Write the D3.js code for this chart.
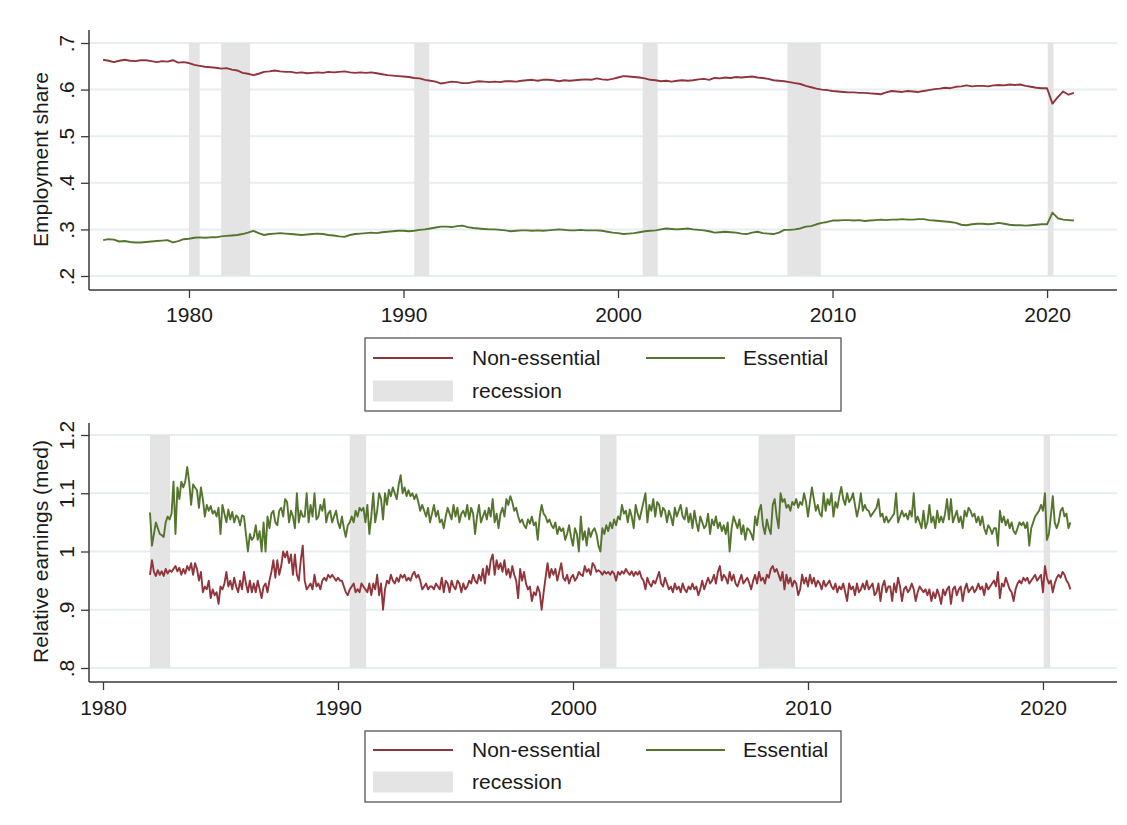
<!DOCTYPE html>
<html>
<head>
<meta charset="utf-8">
<script src="https://cdn.jsdelivr.net/npm/d3@7"></script>
<style>
  body { margin: 0; background: #fff; }
  svg text { font-family: Arial, "Liberation Sans", sans-serif; fill: #1a1a1a; }
</style>
</head>
<body>
<svg width="1127" height="825"></svg>
<script>
// ---- data ----
var seriesNames = ["Non-essential", "Essential"];
var seriesColors = ["#90353b", "#55752f"];

// recession spans (decimal years)
var recessions = [[1980.0, 1980.5], [1981.5, 1982.85], [1990.5, 1991.2],
                  [2001.15, 2001.85], [2007.9, 2009.45], [2020.03, 2020.3]];

// employment share, quarterly from 1976q1
var empStart = 1976, empStep = 0.25;
var empNonEss = [
  .664,.662,.659,.662, .664,.662,.661,.663, .663,.661,.659,.661, .660,.663,.658,.659,
  .657,.653,.651,.649, .648,.647,.645,.646, .643,.641,.636,.634, .631,.634,.638,.639,
  .641,.639,.638,.638, .636,.637,.635,.636, .637,.636,.638,.637, .638,.639,.637,.636,
  .637,.636,.637,.635, .633,.631,.630,.629, .628,.627,.625,.624, .621,.619,.617,.613,
  .615,.617,.616,.614, .614,.616,.618,.617, .616,.617,.616,.618, .618,.617,.619,.620,
  .621,.619,.621,.621, .620,.618,.620,.619, .620,.621,.622,.621, .624,.622,.621,.623,
  .626,.629,.628,.627, .626,.624,.621,.620, .618,.619,.617,.619, .620,.619,.620,.622,
  .623,.621,.625,.624, .626,.625,.627,.626, .627,.628,.626,.625, .623,.620,.619,.618,
  .616,.614,.612,.608, .605,.602,.600,.599, .597,.596,.595,.594, .594,.593,.593,.592,
  .591,.590,.594,.597, .596,.595,.597,.596, .595,.597,.599,.601, .602,.604,.603,.606,
  .607,.609,.607,.608, .608,.607,.609,.610, .609,.611,.610,.611, .608,.606,.604,.603,
  .603,.570,.584,.596, .589,.593
];
var empEss = [
  .277,.279,.278,.274, .275,.273,.272,.272, .273,.274,.275,.276, .277,.272,.275,.279,
  .280,.282,.283,.282, .283,.283,.285,.286, .287,.288,.290,.293, .297,.292,.288,.290,
  .291,.292,.291,.290, .289,.288,.289,.290, .291,.290,.288,.287, .285,.284,.288,.290,
  .291,.292,.293,.292, .294,.295,.296,.297, .297,.296,.297,.299, .300,.302,.304,.306,
  .306,.305,.307,.308, .305,.303,.302,.301, .300,.300,.299,.298, .296,.297,.298,.298,
  .297,.298,.297,.298, .299,.300,.299,.298, .298,.299,.298,.298, .298,.297,.295,.293,
  .292,.290,.291,.292, .294,.296,.297,.298, .300,.302,.301,.300, .301,.302,.300,.299,
  .298,.296,.293,.294, .295,.294,.293,.291, .290,.293,.295,.292, .291,.290,.293,.299,
  .299,.300,.302,.306, .307,.311,.314,.316, .319,.319,.320,.320, .319,.320,.318,.319,
  .320,.321,.320,.321, .321,.322,.321,.321, .322,.322,.320,.319, .318,.317,.316,.314,
  .310,.309,.311,.312, .312,.311,.312,.314, .312,.310,.309,.309, .308,.309,.310,.311,
  .311,.336,.324,.321, .320,.319
];

// relative earnings (median), monthly from 1982m1
var earnStart = 1982, earnStep = 1 / 12;
var earnNonEss = [
  0.960,0.985,0.965,0.958,0.968,0.960,0.966,0.958,0.970,0.962,0.968,0.965, // 1982
  0.970,0.975,0.966,0.972,0.960,0.970,0.962,0.975,0.968,0.980,0.960,0.980, // 1983
  0.970,0.950,0.965,0.930,0.940,0.935,0.950,0.920,0.935,0.925,0.930,0.910, // 1984
  0.940,0.935,0.945,0.965,0.940,0.950,0.935,0.955,0.940,0.930,0.950,0.935, // 1985
  0.965,0.945,0.930,0.950,0.930,0.945,0.930,0.950,0.935,0.920,0.940,0.945, // 1986
  0.930,0.950,0.965,0.985,0.955,0.985,0.960,0.975,1.000,0.990,1.000,0.980, // 1987
  0.995,0.960,0.995,0.960,0.950,0.985,1.010,0.950,0.935,0.940,0.945,0.935, // 1988
  0.960,0.940,0.945,0.935,0.950,0.955,0.950,0.960,0.955,0.960,0.955,0.950, // 1989
  0.955,0.950,0.950,0.940,0.930,0.925,0.935,0.940,0.945,0.930,0.935,0.930, // 1990
  0.945,0.940,0.935,0.930,0.945,0.925,0.945,0.935,0.960,0.925,0.945,0.900, // 1991
  0.935,0.950,0.945,0.960,0.950,0.945,0.955,0.948,0.960,0.955,0.960,0.950, // 1992
  0.955,0.950,0.960,0.965,0.955,0.960,0.950,0.935,0.940,0.945,0.935,0.940, // 1993
  0.940,0.935,0.945,0.940,0.935,0.955,0.930,0.950,0.945,0.930,0.950,0.940, // 1994
  0.935,0.950,0.945,0.930,0.945,0.935,0.940,0.950,0.945,0.960,0.950,0.945, // 1995
  0.960,0.950,0.970,0.945,0.975,0.960,0.985,0.995,0.960,0.985,0.970,0.980, // 1996
  0.965,0.985,0.960,0.970,0.955,0.975,0.960,0.950,0.920,0.970,0.950,0.965, // 1997
  0.945,0.935,0.940,0.915,0.930,0.925,0.940,0.930,0.900,0.930,0.955,0.980, // 1998
  0.955,0.970,0.960,0.970,0.950,0.965,0.980,0.955,0.950,0.960,0.945,0.955, // 1999
  0.960,0.950,0.955,0.965,0.960,0.958,0.975,0.965,0.970,0.960,0.980,0.975, // 2000
  0.965,0.968,0.965,0.960,0.966,0.962,0.965,0.960,0.966,0.962,0.950,0.965, // 2001
  0.960,0.966,0.962,0.970,0.964,0.960,0.966,0.958,0.965,0.960,0.966,0.955, // 2002
  0.950,0.935,0.955,0.945,0.940,0.950,0.945,0.955,0.965,0.945,0.940,0.955, // 2003
  0.945,0.935,0.940,0.930,0.945,0.935,0.940,0.930,0.945,0.935,0.930,0.940, // 2004
  0.935,0.945,0.935,0.940,0.925,0.935,0.950,0.935,0.945,0.955,0.945,0.950, // 2005
  0.960,0.945,0.965,0.975,0.950,0.960,0.955,0.945,0.965,0.950,0.960,0.945, // 2006
  0.940,0.950,0.960,0.945,0.950,0.955,0.946,0.935,0.950,0.960,0.945,0.965, // 2007
  0.950,0.955,0.945,0.960,0.955,0.970,0.975,0.965,0.970,0.960,0.950,0.965, // 2008
  0.935,0.960,0.945,0.955,0.940,0.950,0.945,0.925,0.935,0.960,0.945,0.955, // 2009
  0.940,0.960,0.945,0.955,0.940,0.950,0.945,0.935,0.950,0.940,0.945,0.950, // 2010
  0.940,0.935,0.945,0.930,0.940,0.935,0.945,0.930,0.915,0.945,0.935,0.940, // 2011
  0.925,0.945,0.930,0.935,0.945,0.935,0.950,0.935,0.940,0.945,0.925,0.930, // 2012
  0.945,0.915,0.940,0.950,0.930,0.940,0.940,0.915,0.945,0.930,0.955,0.940, // 2013
  0.915,0.935,0.940,0.930,0.935,0.945,0.935,0.915,0.930,0.940,0.935,0.930, // 2014
  0.935,0.925,0.935,0.915,0.930,0.920,0.935,0.925,0.910,0.935,0.925,0.935, // 2015
  0.940,0.910,0.935,0.940,0.925,0.935,0.940,0.915,0.935,0.945,0.930,0.935, // 2016
  0.940,0.930,0.935,0.945,0.935,0.940,0.925,0.945,0.935,0.940,0.945,0.950, // 2017
  0.940,0.965,0.920,0.945,0.940,0.955,0.945,0.935,0.930,0.915,0.935,0.945, // 2018
  0.950,0.945,0.955,0.950,0.955,0.945,0.950,0.955,0.960,0.950,0.955,0.960, // 2019
  0.930,0.975,0.955,0.945,0.950,0.930,0.945,0.955,0.960,0.955,0.965,0.960, // 2020
  0.950,0.945,0.935                                                        // 2021
];
var earnEss = [
  1.067,1.010,1.030,1.050,1.040,1.030,1.028,1.025,1.050,1.060,1.055,1.065, // 1982
  1.120,1.030,1.110,1.090,1.120,1.110,1.120,1.145,1.120,1.080,1.115,1.110, // 1983
  1.105,1.075,1.110,1.090,1.060,1.080,1.070,1.078,1.065,1.070,1.060,1.075, // 1984
  1.030,1.080,1.065,1.050,1.072,1.055,1.068,1.050,1.062,1.058,1.045,1.062, // 1985
  1.060,1.030,1.000,1.030,1.020,1.025,1.045,1.020,1.035,1.000,1.050,1.000, // 1986
  1.060,1.040,1.065,1.070,1.050,1.045,1.070,1.075,1.060,1.090,1.085,1.050, // 1987
  1.070,1.060,1.040,1.100,1.050,1.070,1.060,1.060,1.100,1.050,1.080,1.060, // 1988
  1.100,1.055,1.060,1.080,1.070,1.090,1.050,1.065,1.070,1.050,1.060,1.070, // 1989
  1.050,1.040,1.060,1.040,1.025,1.045,1.050,1.060,1.050,1.070,1.060,1.075, // 1990
  1.070,1.075,1.050,1.080,1.030,1.060,1.100,1.050,1.070,1.100,1.090,1.055, // 1991
  1.100,1.080,1.106,1.095,1.110,1.100,1.090,1.115,1.131,1.100,1.110,1.095, // 1992
  1.105,1.095,1.100,1.090,1.098,1.085,1.070,1.080,1.070,1.060,1.075,1.050, // 1993
  1.065,1.080,1.060,1.070,1.050,1.055,1.040,1.060,1.075,1.065,1.055,1.080, // 1994
  1.060,1.075,1.050,1.065,1.070,1.060,1.080,1.055,1.075,1.065,1.030,1.060, // 1995
  1.080,1.050,1.060,1.070,1.055,1.075,1.060,1.090,1.050,1.065,1.040,1.065, // 1996
  1.075,1.060,1.090,1.080,1.095,1.085,1.070,1.075,1.060,1.050,1.055,1.045, // 1997
  1.040,1.055,1.048,1.060,1.045,1.050,1.020,1.060,1.080,1.065,1.060,1.050, // 1998
  1.055,1.045,1.040,1.050,1.030,1.042,1.035,1.040,1.020,1.030,1.045,1.025, // 1999
  1.010,1.040,1.030,1.000,1.060,1.020,1.035,1.010,1.040,1.025,1.035,1.040, // 2000
  1.030,1.010,1.000,1.040,1.030,1.045,1.035,1.050,1.040,1.055,1.045,1.060, // 2001
  1.055,1.080,1.065,1.070,1.050,1.072,1.060,1.040,1.080,1.065,1.055,1.070, // 2002
  1.085,1.100,1.050,1.080,1.070,1.090,1.060,1.085,1.080,1.060,1.075,1.070, // 2003
  1.050,1.070,1.060,1.045,1.075,1.060,1.070,1.080,1.060,1.055,1.075,1.050, // 2004
  1.065,1.040,1.070,1.050,1.035,1.060,1.050,1.040,1.045,1.065,1.030,1.055, // 2005
  1.045,1.060,1.040,1.050,1.035,1.045,1.030,1.050,1.000,1.040,1.060,1.050, // 2006
  1.040,1.055,1.030,1.045,1.020,1.040,1.037,1.030,1.020,1.060,1.045,1.070, // 2007
  1.080,1.045,1.030,1.055,1.040,1.030,1.080,1.090,1.060,1.040,1.100,1.085, // 2008
  1.090,1.075,1.080,1.070,1.085,1.080,1.090,1.075,1.085,1.080,1.100,1.085, // 2009
  1.060,1.085,1.110,1.090,1.070,1.080,1.065,1.060,1.100,1.070,1.090,1.080, // 2010
  1.100,1.060,1.085,1.075,1.095,1.111,1.090,1.080,1.100,1.085,1.090,1.100, // 2011
  1.080,1.060,1.075,1.100,1.070,1.080,1.072,1.070,1.060,1.065,1.070,1.075, // 2012
  1.090,1.060,1.065,1.050,1.060,1.050,1.055,1.060,1.065,1.100,1.050,1.060, // 2013
  1.070,1.060,1.065,1.055,1.070,1.060,1.100,1.050,1.060,1.050,1.040,1.070, // 2014
  1.040,1.050,1.080,1.050,1.060,1.040,1.070,1.050,1.060,1.050,1.065,1.090, // 2015
  1.055,1.090,1.050,1.060,1.070,1.050,1.060,1.040,1.070,1.060,1.075,1.070, // 2016
  1.060,1.065,1.050,1.060,1.045,1.060,1.040,1.030,1.045,1.040,1.030,1.040, // 2017
  1.040,1.010,1.070,1.050,1.060,1.045,1.055,1.040,1.050,1.035,1.030,1.040, // 2018
  1.050,1.045,1.050,1.040,1.050,1.010,1.040,1.050,1.060,1.065,1.070,1.080, // 2019
  1.070,1.100,1.020,1.030,1.060,1.095,1.050,1.040,1.050,1.070,1.075,1.060, // 2020
  1.065,1.040,1.050                                                        // 2021
];

var xTicks = [1980, 1990, 2000, 2010, 2020];
var empTicks = [0.2, 0.3, 0.4, 0.5, 0.6, 0.7];
var earnTicks = [0.8, 0.9, 1.0, 1.1, 1.2];

// ---- layout ----
var svg = d3.select("svg");
var plotLeft = 89, plotRight = 1117;
var gridColor = "#e6eef1", shadeColor = "#e4e4e4", axisColor = "#3a3a3a";

function toPoints(values, start, step) {
  return values.map(function (v, i) { return {t: start + i * step, v: v}; });
}

function tickFmt(v) {
  return String(+v.toFixed(1)).replace(/^0\./, ".");
}

function drawPanel(cfg) {
  var g = svg.append("g");
  var x = d3.scaleLinear().domain(cfg.xDomain).range([plotLeft, plotRight]);
  var y = d3.scaleLinear().domain(cfg.yDomain).range([cfg.yBottom, cfg.yTop]);

  // grid lines
  g.append("g").selectAll("line")
    .data(cfg.yTicks)
    .enter().append("line")
    .attr("x1", plotLeft).attr("x2", plotRight)
    .attr("y1", function (d) { return y(d); })
    .attr("y2", function (d) { return y(d); })
    .style("stroke", gridColor)
    .style("stroke-width", 2);

  // recession shading (only over the data span)
  var spans = cfg.recessions
    .filter(function (r) { return r[1] > cfg.dataStart; })
    .map(function (r) { return [Math.max(r[0], cfg.dataStart), r[1]]; });
  g.append("g").selectAll("rect")
    .data(spans)
    .enter().append("rect")
    .attr("x", function (d) { return x(d[0]); })
    .attr("width", function (d) { return x(d[1]) - x(d[0]); })
    .attr("y", y(cfg.yDomain[1]))
    .attr("height", y(cfg.yDomain[0]) - y(cfg.yDomain[1]))
    .style("fill", shadeColor);

  // series lines
  var line = d3.line()
    .x(function (d) { return x(d.t); })
    .y(function (d) { return y(d.v); });
  cfg.series.forEach(function (s, i) {
    g.append("path")
      .datum(s)
      .attr("d", line)
      .style("fill", "none")
      .style("stroke", seriesColors[i])
      .style("stroke-width", 1.9)
      .style("stroke-linejoin", "round");
  });

  // y axis
  var yAxis = d3.axisLeft(y).tickValues(cfg.yTicks).tickSize(8).tickSizeOuter(0).tickFormat(tickFmt);
  var gy = g.append("g")
    .attr("transform", "translate(" + plotLeft + ",0)")
    .call(yAxis);
  gy.select(".domain").remove();
  gy.selectAll(".tick line").style("stroke", axisColor).style("stroke-width", 1.3);
  gy.selectAll(".tick text")
    .attr("x", null).attr("dy", null)
    .attr("transform", "translate(-15,0) rotate(-90)")
    .style("text-anchor", "middle")
    .style("font-size", "21px")
    .style("fill", "#1a1a1a");

  // x axis
  var xAxis = d3.axisBottom(x).tickValues(xTicks).tickSize(8).tickSizeOuter(0)
    .tickPadding(cfg.xPad).tickFormat(d3.format("d"));
  var gx = g.append("g")
    .attr("transform", "translate(0," + cfg.axisBottom + ")")
    .call(xAxis);
  gx.select(".domain").remove();
  gx.selectAll(".tick line").style("stroke", axisColor).style("stroke-width", 1.3);
  gx.selectAll(".tick text")
    .style("font-size", "21px")
    .style("fill", "#1a1a1a");

  // axis lines
  g.append("line")
    .attr("x1", plotLeft).attr("x2", plotLeft)
    .attr("y1", cfg.axisTop).attr("y2", cfg.axisBottom)
    .style("stroke", axisColor).style("stroke-width", 1.5);
  g.append("line")
    .attr("x1", plotLeft).attr("x2", plotRight)
    .attr("y1", cfg.axisBottom).attr("y2", cfg.axisBottom)
    .style("stroke", axisColor).style("stroke-width", 1.5);

  // y title
  g.append("text")
    .attr("transform", "translate(48," + ((cfg.yTop + cfg.yBottom) / 2) + ") rotate(-90)")
    .style("text-anchor", "middle")
    .style("font-size", "21px")
    .text(cfg.yTitle);

  // legend
  var lg = g.append("g").attr("transform", "translate(365," + cfg.legendTop + ")");
  lg.append("rect")
    .attr("width", 476).attr("height", cfg.legendH)
    .style("fill", "#fff").style("stroke", "#555").style("stroke-width", 1.3);
  var row1 = cfg.legendRow1, row2 = cfg.legendRow2;
  [[8, 88, 107], [281, 360, 378]].forEach(function (p, i) {
    lg.append("line")
      .attr("x1", p[0]).attr("x2", p[1]).attr("y1", row1).attr("y2", row1)
      .style("stroke", seriesColors[i]).style("stroke-width", 2);
    lg.append("text")
      .attr("x", p[2]).attr("y", row1 + 7)
      .style("font-size", "21px")
      .text(seriesNames[i]);
  });
  lg.append("rect")
    .attr("x", 8).attr("y", row2 - 10.5).attr("width", 80).attr("height", 21)
    .style("fill", shadeColor);
  lg.append("text")
    .attr("x", 107).attr("y", row2 + 7)
    .style("font-size", "21px")
    .text("recession");
}

drawPanel({
  xDomain: [1975.34, 2023.26],
  yDomain: [0.2, 0.7], yTop: 43, yBottom: 276,
  axisTop: 30, axisBottom: 290, xPad: 9,
  yTicks: empTicks,
  dataStart: empStart,
  recessions: recessions,
  series: [toPoints(empNonEss, empStart, empStep), toPoints(empEss, empStart, empStep)],
  yTitle: "Employment share",
  legendTop: 338, legendH: 73, legendRow1: 20, legendRow2: 53
});

drawPanel({
  xDomain: [1979.404, 2023.15],
  yDomain: [0.8, 1.2], yTop: 435, yBottom: 668,
  axisTop: 423, axisBottom: 682, xPad: 10,
  yTicks: earnTicks,
  dataStart: earnStart,
  recessions: recessions,
  series: [toPoints(earnNonEss, earnStart, earnStep), toPoints(earnEss, earnStart, earnStep)],
  yTitle: "Relative earnings (med)",
  legendTop: 731, legendH: 71, legendRow1: 19, legendRow2: 51
});
</script>
</body>
</html>
